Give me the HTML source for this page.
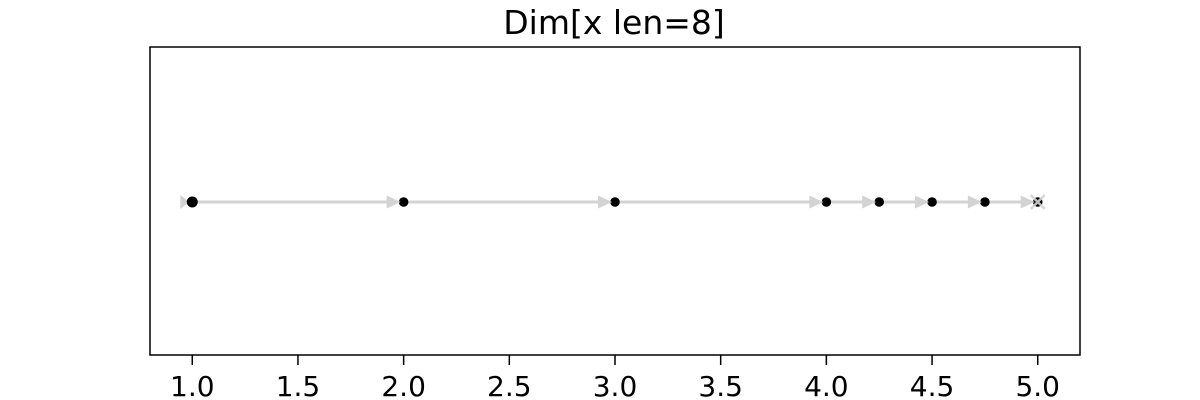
<!DOCTYPE html>
<html><head><meta charset="utf-8"><style>body{margin:0;background:#fff}svg{display:block}</style></head>
<body>
<svg width="1200" height="400" font-family="DejaVu Sans, Liberation Sans, sans-serif">
<text x="614" y="34" text-anchor="middle" font-size="33">Dim[x len=8]</text>
<g id="lines"></g>
<g id="marks"></g>
<g id="heads"></g>
<rect x="150" y="47" width="930" height="308" fill="none" stroke="#000" stroke-width="1.5"/>
<g id="ticks"></g>
</svg>
<script>
const points = [1, 2, 3, 4, 4.25, 4.5, 4.75, 5];
const tickValues = [1.0, 1.5, 2.0, 2.5, 3.0, 3.5, 4.0, 4.5, 5.0];
const tickLabels = ["1.0","1.5","2.0","2.5","3.0","3.5","4.0","4.5","5.0"];
const xMin = 0.8, xMax = 5.2;
const X = v => 150 + (v - xMin) / (xMax - xMin) * 930;
const Y0 = 202;
const NS = 'http://www.w3.org/2000/svg';
const lines = document.getElementById('lines'), marks = document.getElementById('marks'), heads = document.getElementById('heads'), ticks = document.getElementById('ticks');
function mk(t, a, p) { const e = document.createElementNS(NS, t); for (const k in a) e.setAttribute(k, a[k]); p.appendChild(e); return e; }
tickValues.forEach((v, i) => {
  const x = X(v);
  const l = mk('line', {x1: x, x2: x, y1: 355, y2: 365, stroke: '#000', 'stroke-width': 1.5}, ticks);
  
  
  const t = mk('text', {x: x, y: 396, 'text-anchor': 'middle', 'font-size': 28}, ticks);
  t.textContent = tickLabels[i];
  
  
});
points.forEach((v, i) => {
  const c = mk('circle', {cx: X(v), cy: Y0, r: i === 0 ? 5.5 : 4.8, fill: '#000'}, marks);
  
  
});
const s = mk('path', {d: `M${X(points[0]) - 12},${Y0 - 7} L${X(points[0]) - 3},${Y0} L${X(points[0]) - 12},${Y0 + 7}Z`, fill: '#d3d3d3'}, lines);


for (let i = 0; i < points.length - 1; i++) {
  const a = X(points[i]), b = X(points[i + 1]);
  const l = mk('line', {x1: a, x2: b - 10, y1: Y0, y2: Y0, stroke: '#d3d3d3', 'stroke-width': 3}, lines);
  
  
  const h = mk('path', {d: `M${b - 17},${Y0 - 6.5} L${b - 3},${Y0} L${b - 17},${Y0 + 6.5}Z`, fill: '#d3d3d3'}, heads);
  
  
}
const e = X(points[points.length - 1]);
const x = mk('path', {d: `M${e - 7},${Y0 - 7} L${e + 7},${Y0 + 7} M${e - 7},${Y0 + 7} L${e + 7},${Y0 - 7}`, stroke: '#d3d3d3', 'stroke-width': 2.5, fill: 'none', opacity: 0.9}, heads);


</script>
</body></html>
